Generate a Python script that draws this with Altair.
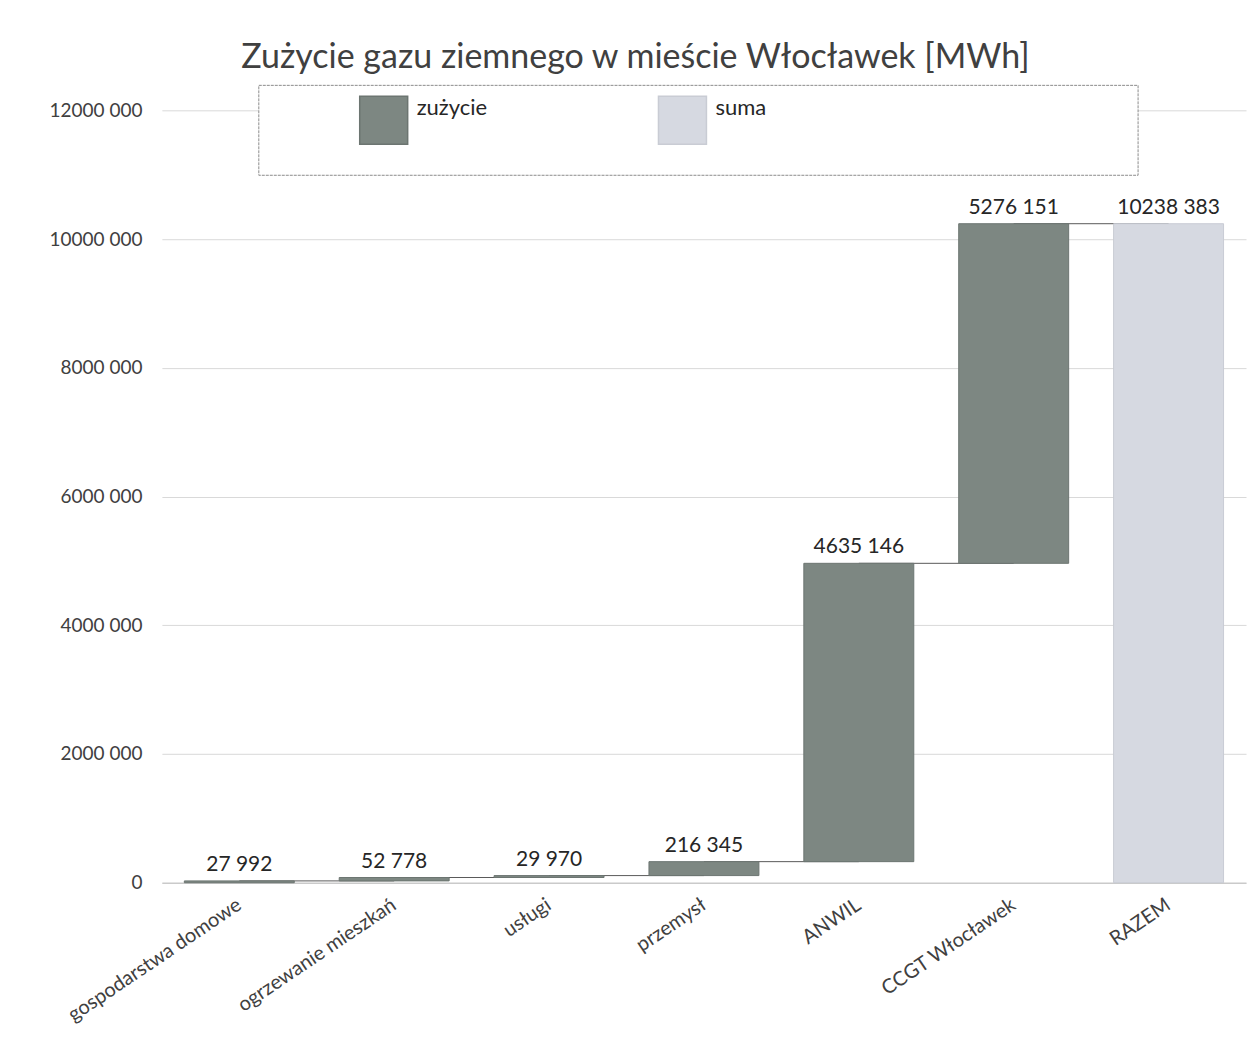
import altair as alt
import pandas as pd

# ---- data ----
categories = ["gospodarstwa domowe", "ogrzewanie mieszkań", "usługi", "przemysł",
              "ANWIL", "CCGT Włocławek", "RAZEM"]
values = [27992, 52778, 29970, 216345, 4635146, 5276151, 10238383]
kinds = ["zużycie", "zużycie", "zużycie", "zużycie", "zużycie", "zużycie", "suma"]
y_ticks = [0, 2000000, 4000000, 6000000, 8000000, 10000000, 12000000]

# ---- waterfall table ----
rows = []
running = 0
for cat, val, kind in zip(categories, values, kinds):
    if kind == "suma":
        start, end = 0, val
    else:
        start, end = running, running + val
        running = end
    rows.append({"cat": cat, "value": val, "kind": kind, "start": start, "end": end,
                 "top": max(start, end)})
df = pd.DataFrame(rows)

conn = pd.DataFrame({
    "cat": categories[:-1],
    "next": categories[1:],
    "level": list(df["end"][:-1]),
})

FONT = "Lato"
C_USE = "#7d8782"
C_SUM = "#d6d9e1"

xenc = alt.X("cat:N", sort=categories, title=None,
             scale=alt.Scale(paddingInner=0.29, paddingOuter=0.145),
             axis=alt.Axis(labelAngle=-34, labelAlign="right", labelBaseline="middle",
                           labelFontSize=20, labelColor="#404040", labelFont=FONT,
                           ticks=False, domainColor="#bfbfbf", labelPadding=20,
                           labelLimit=300))
yscale = alt.Scale(domain=[0, 12000000], nice=False)

box = alt.Chart(pd.DataFrame({"a": [0]})).mark_rect(
    fill="white", stroke="#8c8c8c", strokeWidth=1, strokeDash=[3, 1]
).encode(x=alt.value(97), x2=alt.value(977), y=alt.value(-25), y2=alt.value(65))

base = alt.Chart(df)

connectors = alt.Chart(conn).mark_rule(color="#595959", strokeWidth=1).encode(
    x=alt.X("cat:N", sort=categories),
    x2="next:N",
    y=alt.Y("level:Q", scale=yscale),
)

bars = base.mark_bar(strokeWidth=1).encode(
    x=xenc,
    y=alt.Y("start:Q", scale=yscale, title=None,
            axis=alt.Axis(values=y_ticks, domain=False, ticks=False,
                          labelFontSize=19, labelColor="#404040", labelFont=FONT,
                          labelPadding=20, gridColor="#d9d9d9",
                          labelExpr="datum.value == 0 ? '0' : format(datum.value / 1000, 'd') + ' 000'")),
    y2="end:Q",
    color=alt.Color("kind:N", title=None,
                    scale=alt.Scale(domain=["zużycie", "suma"], range=[C_USE, C_SUM]),
                    legend=alt.Legend(orient="none", legendX=197, legendY=-15,
                                      direction="horizontal", symbolType="square",
                                      symbolSize=2304, symbolStrokeColor="#404040",
                                      symbolStrokeWidth=1.5, symbolOpacity=1,
                                      labelFontSize=22, labelFont=FONT, labelColor="#262626",
                                      labelOffset=8, columnPadding=168, padding=0,
                                      labelBaseline="bottom")),
    stroke=alt.Color("kind:N", scale=alt.Scale(domain=["zużycie", "suma"],
                                                range=["#6c7571", "#c9ccd4"]), legend=None),
)

labels = base.mark_text(baseline="bottom", dy=-6, fontSize=21, font=FONT, color="#262626").encode(
    x=alt.X("cat:N", sort=categories),
    y=alt.Y("top:Q", scale=yscale),
    text="lbl:N",
).transform_calculate(
    lbl="format(floor(datum.value / 1000), 'd') + ' ' + format(datum.value % 1000, '03d')"
)

chart = alt.layer(box, connectors, bars, labels).properties(
    width=1085, height=773,
    background="white",
    title=alt.Title("Zużycie gazu ziemnego w mieście Włocławek [MWh]", fontSize=34,
                    font=FONT, fontWeight="normal", color="#404040", anchor="middle",
                    frame="bounds", offset=10, dx=-12),
    padding={"left": 40, "top": 32, "right": 5, "bottom": 2},
).configure_view(stroke="transparent", strokeWidth=0)

chart.save("out.html", embed_options={"renderer": "svg", "actions": False})
